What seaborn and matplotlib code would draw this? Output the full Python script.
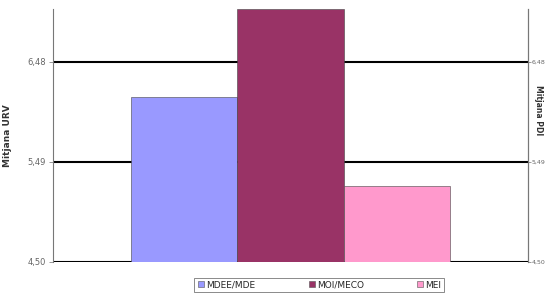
import matplotlib
matplotlib.use("Agg")
import matplotlib.pyplot as plt
import seaborn as sns
import pandas as pd
from matplotlib.lines import Line2D

categories = ["MDEE/MDE", "MOI/MECO", "MEI"]
values = [6.13, 7.00, 5.25]
colors = ["#9999FF", "#993366", "#FF99CC"]
ticks = [4.50, 5.49, 6.48]
tick_labels = ["4,50", "5,49", "6,48"]

sns.set_theme(style="white")
plt.rcParams['font.family'] = ['DejaVu Sans']

df = pd.DataFrame({"grp": ["g"] * 3, "cat": categories, "val": values})

L, R, T, B = 53, 528, 9, 262
fig = plt.figure(figsize=(5.45, 2.94), dpi=100)
ax = fig.add_axes([L/545, 1 - B/294, (R - L)/545, (B - T)/294])

sns.barplot(data=df, x="grp", y="val", hue="cat", hue_order=categories,
            palette=colors, width=0.67, gap=0, edgecolor="#444444",
            linewidth=0.4, ax=ax, legend=False, saturation=1)

ax.set_ylim(4.5, 7.0)
ax.set_xlim(-0.5, 0.5)
ax.set_yticks(ticks)
ax.set_yticklabels(tick_labels, fontsize=6, color="#666666")
ax.tick_params(axis="y", length=3, width=0.6, color="#888888", pad=2)
ax.set_xticks([])
ax.set_xlabel("")
ax.set_ylabel("Mitjana URV", fontsize=6.5, fontweight="bold", color="#333333")
ax.yaxis.set_label_coords((12 - L)/(R - L), 0.5)

for t in ticks:
    ax.axhline(t, color="black", linewidth=1.5, zorder=0.5)

for s in ["top", "bottom"]:
    ax.spines[s].set_visible(False)
for s in ["left", "right"]:
    ax.spines[s].set_color("#777777")
    ax.spines[s].set_linewidth(0.8)

ax2 = ax.twinx()
ax2.set_ylim(4.5, 7.0)
ax2.set_yticks(ticks)
ax2.set_yticklabels(tick_labels, fontsize=4.5, color="#666666")
ax2.tick_params(axis="y", length=2, width=0.6, color="#888888", pad=0.5)
ax2.set_ylabel("Mitjana PDI", fontsize=5.5, fontweight="bold", color="#333333",
               rotation=270, va="center")
ax2.yaxis.set_label_coords((538 - L)/(R - L), (B - 110)/(B - T))
for s in ["top", "bottom", "left"]:
    ax2.spines[s].set_visible(False)
ax2.spines["right"].set_color("#777777")
ax2.spines["right"].set_linewidth(0.8)

handles = [Line2D([0], [0], marker="s", linestyle="none", markersize=4,
                  markerfacecolor=c, markeredgecolor="#555555", markeredgewidth=0.4)
           for c in colors]
leg = fig.legend(handles, categories, loc="center", ncol=3,
                 bbox_to_anchor=(319/545, 1 - 285/294), fontsize=6.5,
                 frameon=True, fancybox=False, edgecolor="#555555",
                 handletextpad=0.1, columnspacing=5.7, borderpad=0.3,
                 handlelength=1.0)
leg.get_frame().set_linewidth(0.6)

fig.savefig("out.png", dpi=100)
